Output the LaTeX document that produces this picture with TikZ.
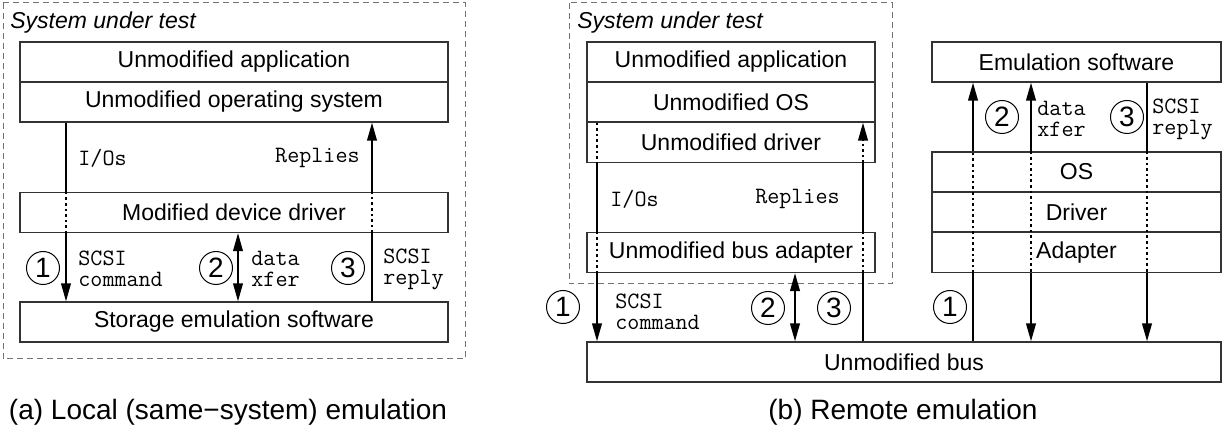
\documentclass[tikz,border=0pt]{standalone}
\usepackage{fontspec}
\setmainfont{Liberation Sans}
\usetikzlibrary{arrows.meta}

\begin{document}
\begin{tikzpicture}[x=0.5pt, y=-0.5pt,
  layer/.style={draw=black!80, line width=0.6pt, inner sep=0pt, minimum height=20pt,
    font=\fontsize{11.5}{13}\selectfont},
  tag/.style={font=\ttfamily\fontsize{11.7}{10.5}\selectfont, align=left, inner sep=0pt},
  num/.style={circle, draw, line width=0.5pt, inner sep=0pt, minimum size=16.5pt,
    font=\fontsize{14}{14}\selectfont},
  wire/.style={line width=1pt},
  thru/.style={line width=1pt, dash pattern=on 1.3pt off 1.5pt},
  tip/.style={-{Triangle[length=9pt,width=4.8pt]}},
  tipr/.style={{Triangle[length=9pt,width=4.8pt]}-},
  ends/.style={{Triangle[length=9pt,width=4.8pt]}-{Triangle[length=9pt,width=4.8pt]}},
  sut/.style={draw=black!55, line width=0.5pt, dash pattern=on 3pt off 2pt},
  caption/.style={font=\fontsize{14}{16}\selectfont}]
  \useasboundingbox (0,0) rectangle (1225,432);

  % (a) local emulation
  \draw[sut] (3,3) rectangle (465,359);
  \node[anchor=west, inner sep=0pt, font=\itshape\fontsize{11.5}{13}\selectfont] (lsut) at (10,23) {System under test};
  \node[layer, minimum width=214pt] (lapp) at (234,62) {Unmodified application};
  \node[layer, minimum width=214pt] (los) at (234,102) {Unmodified operating system};
  \node[layer, minimum width=214pt] (ldrv) at (234,212.5) {Modified device driver};
  \node[layer, minimum width=214pt] (lsto) at (234,322) {Storage emulation software};

  \coordinate (l1) at (66,0);
  \coordinate (l2) at (238,0);
  \coordinate (l3) at (372,0);
  \draw[wire] (los.south -| l1) -- (ldrv.north -| l1);
  \draw[thru] (ldrv.north -| l1) -- (ldrv.south -| l1);
  \draw[wire, tip] (ldrv.south -| l1) -- (lsto.north -| l1);
  \draw[wire, ends] (ldrv.south -| l2) -- (lsto.north -| l2);
  \draw[wire] (lsto.north -| l3) -- (ldrv.south -| l3);
  \draw[thru] (ldrv.south -| l3) -- (ldrv.north -| l3);
  \draw[wire, tip] (ldrv.north -| l3) -- (los.south -| l3);

  \node[tag, anchor=west] (lio) at (78,158) {I/Os};
  \node[tag, anchor=east] (lrep) at (360,158) {Replies};
  \node[tag, anchor=west] (lcmd) at (78,269) {SCSI\\command};
  \node[tag, anchor=west] (lxfer) at (251,269) {data\\xfer};
  \node[tag, anchor=west] (lrpl) at (383,269) {SCSI\\reply};
  \node[num] (la) at (43,268) {1};
  \node[num] (lb) at (216,268) {2};
  \node[num] (lc) at (348,268) {3};

  % (b) remote emulation
  \draw[sut] (569,3) rectangle (892,284);
  \node[anchor=west, inner sep=0pt, font=\itshape\fontsize{11.5}{13}\selectfont] (rsut) at (577,23) {System under test};
  \node[layer, minimum width=144pt] (rapp) at (731,62) {Unmodified application};
  \node[layer, minimum width=144pt] (ros) at (731,102) {Unmodified OS};
  \node[layer, minimum width=144pt] (rdrv) at (731,142.5) {Unmodified driver};
  \node[layer, minimum width=144pt] (radp) at (731,252.5) {Unmodified bus adapter};

  \node[layer, minimum width=144.5pt] (emu) at (1076.5,62) {Emulation software};
  \node[layer, minimum width=144.5pt] (sos) at (1076.5,172) {OS};
  \node[layer, minimum width=144.5pt] (sdrv) at (1076.5,212) {Driver};
  \node[layer, minimum width=144.5pt] (sadp) at (1076.5,252.5) {Adapter};

  \node[layer, minimum width=317pt] (bus) at (904,362) {Unmodified bus};

  \coordinate (r1) at (597,0);
  \coordinate (r2) at (795,0);
  \coordinate (r3) at (863,0);
  \coordinate (s1) at (973,0);
  \coordinate (s2) at (1031,0);
  \coordinate (s3) at (1147,0);

  % command goes down through the tester, then up to the emulator
  \draw[thru] (ros.south -| r1) -- (rdrv.south -| r1);
  \draw[wire] (rdrv.south -| r1) -- (radp.north -| r1);
  \draw[thru] (radp.north -| r1) -- (radp.south -| r1);
  \draw[wire, tip] (radp.south -| r1) -- (bus.north -| r1);
  \draw[wire] (bus.north -| s1) -- (sadp.south -| s1);
  \draw[thru] (sadp.south -| s1) -- (sos.north -| s1);
  \draw[wire, tip] (sos.north -| s1) -- (emu.south -| s1);

  % data transfer
  \draw[wire, ends] (radp.south -| r2) -- (bus.north -| r2);
  \draw[wire, tip] (sos.north -| s2) -- (emu.south -| s2);
  \draw[thru] (sos.north -| s2) -- (sadp.south -| s2);
  \draw[wire, tipr] (bus.north -| s2) -- (sadp.south -| s2);

  % reply goes back the other way
  \draw[wire] (emu.south -| s3) -- (sos.north -| s3);
  \draw[thru] (sos.north -| s3) -- (sadp.south -| s3);
  \draw[wire, tip] (sadp.south -| s3) -- (bus.north -| s3);
  \draw[wire] (bus.north -| r3) -- (radp.south -| r3);
  \draw[thru] (radp.south -| r3) -- (radp.north -| r3);
  \draw[wire] (radp.north -| r3) -- (rdrv.south -| r3);
  \draw[thru, tip] (rdrv.south -| r3) -- (ros.south -| r3);

  \node[tag, anchor=west] (rio) at (610,199) {I/Os};
  \node[tag, anchor=east] (rrep) at (840,199) {Replies};
  \node[tag, anchor=west] (rcmd) at (615,312) {SCSI\\command};
  \node[tag, anchor=west] (sxfer) at (1037,119) {data\\xfer};
  \node[tag, anchor=west] (srpl) at (1152,119) {SCSI\\reply};
  \node[num] (ra) at (563,307) {1};
  \node[num] (rb) at (768,308) {2};
  \node[num] (rc) at (834,308) {3};
  \node[num] (sa) at (950,307) {1};
  \node[num] (sb) at (1002,117) {2};
  \node[num] (sc) at (1127,117) {3};

  \node[caption] (capa) at (228,412) {(a) Local (same−system) emulation};
  \node[caption] (capb) at (903,412) {(b) Remote emulation};
\end{tikzpicture}
\end{document}
